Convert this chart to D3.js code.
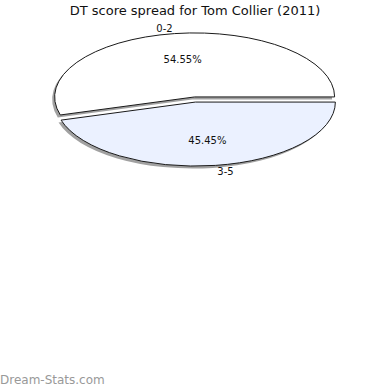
<!DOCTYPE html>
<html>
<head>
<meta charset="utf-8">
<script src="https://cdn.jsdelivr.net/npm/d3@7"></script>
<style>
  body { margin: 0; background: #fff; }
  text { font-family: "DejaVu Sans", sans-serif; }
</style>
</head>
<body>
<svg id="chart" width="390" height="390"></svg>
<script>
// data
var categories = ["0-2", "3-5"];
var values = [54.55, 45.45];
var pctLabels = ["54.55%", "45.45%"];
var colors = ["#ffffff", "#ebf1ff"];

var svg = d3.select("#chart");
var cx = 195, cy = 99.5, rx = 140, ry = 64;
var explode = 2.6;

svg.append("text")
    .attr("x", 195)
    .attr("y", 15)
    .attr("text-anchor", "middle")
    .style("font-size", "13px")
    .style("fill", "#111")
    .text("DT score spread for Tom Collier (2011)");

// pie drawn counterclockwise from 3 o'clock
var pie = d3.pie()
    .sort(null)
    .value(function(d) { return d; })
    .startAngle(Math.PI / 2)
    .endAngle(Math.PI / 2 - 2 * Math.PI);

var arc = d3.arc().innerRadius(0).outerRadius(rx);
var arcs = pie(values);

function mid(d) { return (d.startAngle + d.endAngle) / 2; }
function shift(d) {
  var a = mid(d);
  return [Math.sin(a) * explode, -Math.cos(a) * explode];
}

// shadow
svg.append("g").selectAll("path")
    .data(arcs)
  .enter().append("path")
    .attr("d", arc)
    .attr("transform", function(d) {
      var s = shift(d);
      return "translate(" + (cx + s[0] - 2.5) + "," + (cy + s[1] + 2.5) + ") scale(1," + (ry / rx) + ")";
    })
    .style("fill", "#8a8a8a")
    .style("opacity", 0.8);

svg.append("g").selectAll("path")
    .data(arcs)
  .enter().append("path")
    .attr("d", arc)
    .attr("transform", function(d) {
      var s = shift(d);
      return "translate(" + (cx + s[0]) + "," + (cy + s[1]) + ") scale(1," + (ry / rx) + ")";
    })
    .attr("vector-effect", "non-scaling-stroke")
    .style("fill", function(d, i) { return colors[i]; })
    .style("stroke", "#1a1a1a")
    .style("stroke-width", 1);

// percent labels inside
svg.append("g").selectAll("text")
    .data(arcs)
  .enter().append("text")
    .attr("x", function(d) { return cx + shift(d)[0] + Math.sin(mid(d)) * rx * 0.6; })
    .attr("y", function(d) { return cy + shift(d)[1] - Math.cos(mid(d)) * ry * 0.6 + 4; })
    .attr("text-anchor", "middle")
    .style("font-size", "10px")
    .style("fill", "#111")
    .text(function(d, i) { return pctLabels[i]; });

// category labels outside
svg.append("g").selectAll("text")
    .data(arcs)
  .enter().append("text")
    .attr("x", function(d) { return cx + shift(d)[0] + Math.sin(mid(d)) * rx * 1.1; })
    .attr("y", function(d) { return cy + shift(d)[1] - Math.cos(mid(d)) * ry * 1.09 + 4; })
    .attr("text-anchor", function(d) { return Math.sin(mid(d)) < 0 ? "end" : "start"; })
    .style("font-size", "10px")
    .style("fill", "#111")
    .text(function(d, i) { return categories[i]; });

svg.append("text")
    .attr("x", 0)
    .attr("y", 384)
    .style("font-size", "12px")
    .style("fill", "#999")
    .text("Dream-Stats.com");
</script>
</body>
</html>
